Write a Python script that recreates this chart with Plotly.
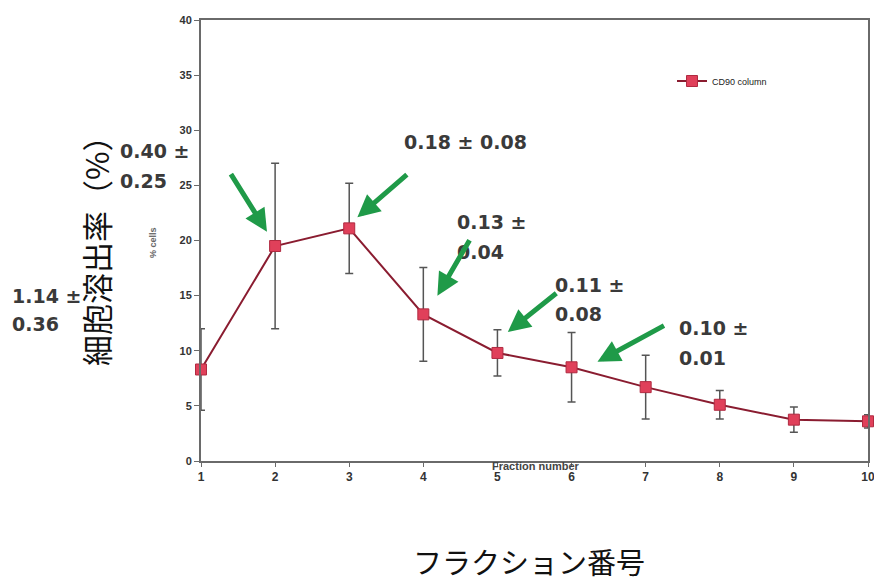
import plotly.graph_objects as go

fractions = [1, 2, 3, 4, 5, 6, 7, 8, 9, 10]
pct_cells = [8.3, 19.5, 21.1, 13.3, 9.8, 8.5, 6.7, 5.1, 3.75, 3.6]
pct_err = [3.7, 7.5, 4.1, 4.25, 2.1, 3.15, 2.9, 1.3, 1.15, 0.6]
y_ticks = [0, 5, 10, 15, 20, 25, 30, 35, 40]
series_name = "CD90 column"

# elution labels: (text, left px, center px)
label_lines = [
    ("0.40 ±", 118, 151), ("0.25", 118, 181),
    ("1.14 ±", 10, 296), ("0.36", 10, 324),
    ("0.18 ± 0.08", 402, 142),
    ("0.13 ±", 455, 222), ("0.04", 455, 252),
    ("0.11 ±", 553, 285), ("0.08", 553, 314),
    ("0.10 ±", 677, 328), ("0.01", 677, 358),
]
# arrows: tip in data coords, tail offset in px
arrows = [
    (0.78, 10.1, -33, -58),
    (1.89, 20.8, -37, -59),
    (3.11, 22.1, 51, -44),
    (4.19, 15.0, 33, -57),
    (5.14, 11.7, 50, -40),
    (6.35, 9.0, 68, -37),
]

L, R, T, B = 201, 868, 20, 461
W, H = 874, 581


def px(x):
    return (x - L) / (R - L)


def py(y):
    return (B - y) / (B - T)


fig = go.Figure()
fig.add_trace(go.Scatter(
    x=fractions, y=pct_cells, name=series_name, mode="lines+markers",
    line=dict(color="#8a1c30", width=2),
    marker=dict(symbol="square", size=11, color="#e0405a",
                line=dict(color="#b02a40", width=1)),
    error_y=dict(type="data", array=pct_err, visible=True,
                 color="#555555", thickness=1.5, width=4),
    cliponaxis=False,
))

ann = []
for text, x0, y0 in label_lines:
    ann.append(dict(text=text, xref="paper", yref="paper", x=px(x0), y=py(y0),
                    xanchor="left", yanchor="middle", showarrow=False,
                    font=dict(family="DejaVu Sans", size=19,
                              color="#3a3a3a", weight="bold")))
for xt, yt, ax, ay in arrows:
    ann.append(dict(x=xt, y=yt, xref="x", yref="y", ax=ax, ay=ay,
                    axref="pixel", ayref="pixel", text="", showarrow=True,
                    arrowhead=2, arrowsize=0.9, arrowwidth=5,
                    arrowcolor="#1f9a48"))
ann.append(dict(text="細胞溶出率（%）", xref="paper", yref="paper",
                x=px(95), y=py(243), textangle=-90, showarrow=False,
                xanchor="center", yanchor="middle",
                font=dict(family="Noto Sans CJK JP", size=31, color="#111111")))
ann.append(dict(text="フラクション番号", xref="paper", yref="paper",
                x=px(529), y=py(561), showarrow=False,
                xanchor="center", yanchor="middle",
                font=dict(family="Noto Sans CJK JP", size=29, color="#111111")))
ann.append(dict(text="Fraction number", xref="paper", yref="paper",
                x=px(536), y=py(466), showarrow=False,
                xanchor="center", yanchor="middle",
                font=dict(family="Liberation Sans, Arial", size=11,
                          color="#444444", weight="bold")))
ann.append(dict(text="% cells", xref="paper", yref="paper",
                x=px(153), y=py(243), textangle=-90, showarrow=False,
                xanchor="center", yanchor="middle",
                font=dict(family="Liberation Sans, Arial", size=9,
                          color="#666666", weight="bold")))

fig.update_layout(
    width=W, height=H,
    margin=dict(l=L, r=W - R, t=T, b=H - B),
    paper_bgcolor="white", plot_bgcolor="white",
    showlegend=True,
    legend=dict(x=px(672), y=py(81), xanchor="left", yanchor="middle",
                bgcolor="rgba(0,0,0,0)", itemwidth=30,
                font=dict(family="Liberation Sans, Arial", size=9, color="#222222")),
    annotations=ann,
    font=dict(family="Liberation Sans, Arial"),
)
fig.update_xaxes(range=[1, 10], tickvals=fractions, showgrid=False, zeroline=False,
                 showline=True, linecolor="#6a6a6a", linewidth=2, mirror=True,
                 ticks="outside", ticklen=4, tickcolor="#6a6a6a", automargin=False,
                 ticklabeloverflow="allow",
                 tickfont=dict(size=12, color="#333333", weight="bold"))
fig.update_yaxes(range=[0, 40], tickvals=y_ticks, showgrid=False, zeroline=False,
                 showline=True, linecolor="#6a6a6a", linewidth=2, mirror=True,
                 ticks="outside", ticklen=5, tickcolor="#6a6a6a", automargin=False,
                 tickfont=dict(size=11, color="#333333", weight="bold"))

fig.write_html("out.html", config={"displayModeBar": False},
               post_script="document.body.style.margin='0';")
